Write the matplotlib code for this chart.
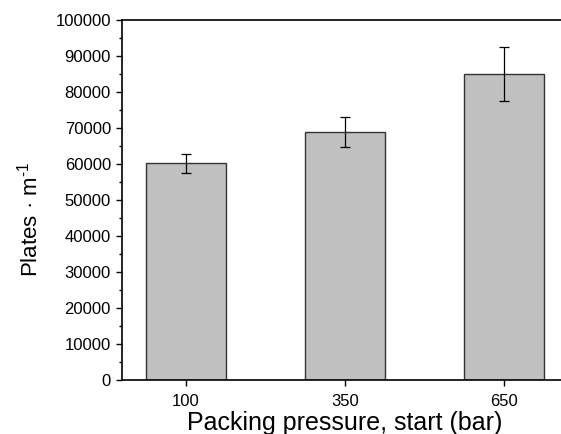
import matplotlib
matplotlib.use("Agg")
import matplotlib.pyplot as plt
from matplotlib.ticker import MultipleLocator

categories = ["100", "350", "650"]
values = [60150, 68900, 85000]
errors = [2600, 4050, 7370]

plt.rcParams['font.family'] = ['Liberation Sans', 'DejaVu Sans']

W, H = 561, 434
fig = plt.figure(figsize=(W / 100, H / 100), dpi=100)
left, right, top, bottom = 122, 568, 20, 380
ax = fig.add_axes([left / W, 1 - bottom / H, (right - left) / W, (bottom - top) / H])

x = list(range(len(categories)))
ax.bar(x, values, width=0.5, color="#c0c0c0", edgecolor="#333333", linewidth=1.0, zorder=2)
ax.errorbar(x, values, yerr=errors, fmt="none", ecolor="black", elinewidth=0.9,
            capsize=3.5, capthick=0.9, zorder=3)

ax.set_xlim(-0.4, 2.4)
ax.set_ylim(0, 100000)
ax.set_xticks(x)
ax.set_xticklabels(categories)
ax.yaxis.set_major_locator(MultipleLocator(10000))
ax.yaxis.set_minor_locator(MultipleLocator(5000))
ax.tick_params(axis="both", which="major", direction="out", length=4.5, width=1.0,
               labelsize=12, colors="black", pad=3.5)
ax.tick_params(axis="y", which="minor", direction="out", length=2.5, width=1.0)
ax.tick_params(axis="x", which="major", length=4, pad=6)
for s in ax.spines.values():
    s.set_linewidth(1.2)
    s.set_color("black")

ax.set_xlabel("Packing pressure, start (bar)", fontsize=18, labelpad=1.5)
ax.set_ylabel("Plates · m$^{\\mathregular{‐1}}$", fontsize=16, labelpad=9)
ax.yaxis.label.set_y(0.447)

fig.savefig("out.png", dpi=100)
